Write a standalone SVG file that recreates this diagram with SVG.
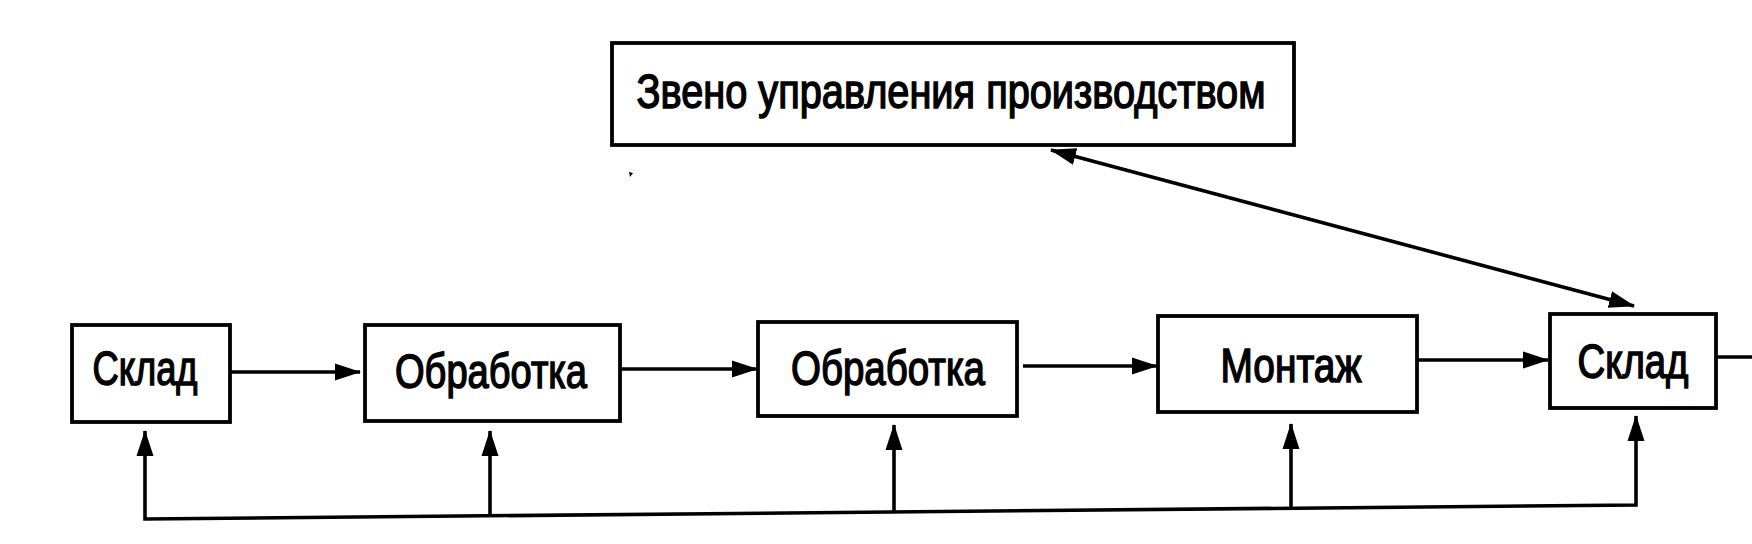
<svg xmlns="http://www.w3.org/2000/svg" width="1752" height="544" viewBox="0 0 1752 544">
<style>
.box{fill:#fff;stroke:#000;stroke-width:3.8}
.lbl{font-family:"Liberation Sans",Arial,sans-serif;font-size:48px;fill:#000;text-anchor:middle;stroke:#000;stroke-width:1.5}
.ln{fill:none;stroke:#000;stroke-width:3.6}
</style>
<defs>
<marker id="ah" markerUnits="userSpaceOnUse" markerWidth="27" markerHeight="20" refX="25" refY="10" orient="auto-start-reverse" viewBox="0 0 27 20">
<path d="M0,1.5 L26,10 L0,18.5 z" fill="#000"/>
</marker>
</defs>
<rect width="1752" height="544" fill="#fff"/>
<g id="control">
<rect class="box" x="612" y="43" width="682" height="102"/>
<text class="lbl" x="951" y="108" textLength="629" lengthAdjust="spacingAndGlyphs">Звено управления производством</text>
</g>
<g id="sklad1">
<rect class="box" x="72" y="325" width="158" height="97"/>
<text class="lbl" x="145" y="385" textLength="105" lengthAdjust="spacingAndGlyphs">Склад</text>
</g>
<g id="obr1">
<rect class="box" x="365" y="325" width="255" height="96"/>
<text class="lbl" x="491" y="388" textLength="192" lengthAdjust="spacingAndGlyphs">Обработка</text>
</g>
<g id="obr2">
<rect class="box" x="758" y="322" width="259" height="94"/>
<text class="lbl" x="888" y="385" textLength="194" lengthAdjust="spacingAndGlyphs">Обработка</text>
</g>
<g id="montazh">
<rect class="box" x="1158" y="316" width="259" height="96"/>
<text class="lbl" x="1291" y="382" textLength="141" lengthAdjust="spacingAndGlyphs">Монтаж</text>
</g>
<g id="sklad2">
<rect class="box" x="1550" y="314" width="166" height="94"/>
<text class="lbl" x="1633" y="378" textLength="111" lengthAdjust="spacingAndGlyphs">Склад</text>
</g>
<g id="connectors">
<line class="ln" x1="230" y1="372" x2="360" y2="372" marker-end="url(#ah)"/>
<line class="ln" x1="620" y1="369" x2="757" y2="369" marker-end="url(#ah)"/>
<line class="ln" x1="1023" y1="366" x2="1157" y2="366" marker-end="url(#ah)"/>
<line class="ln" x1="1417" y1="360" x2="1548" y2="360" marker-end="url(#ah)"/>
<line class="ln" x1="1716" y1="357" x2="1752" y2="357"/>
<line class="ln" x1="1051" y1="150" x2="1634" y2="306" marker-start="url(#ah)" marker-end="url(#ah)"/>
<polyline class="ln" points="145,431 145,519 1636,505 1636,416" marker-start="url(#ah)" marker-end="url(#ah)"/>
<line class="ln" x1="490" y1="516" x2="490" y2="431" marker-end="url(#ah)"/>
<line class="ln" x1="894" y1="512" x2="894" y2="425" marker-end="url(#ah)"/>
<line class="ln" x1="1291" y1="508" x2="1291" y2="424" marker-end="url(#ah)"/>
</g>
<path d="M629,172 L633,173 L630,177 z" fill="#000"/>
</svg>
